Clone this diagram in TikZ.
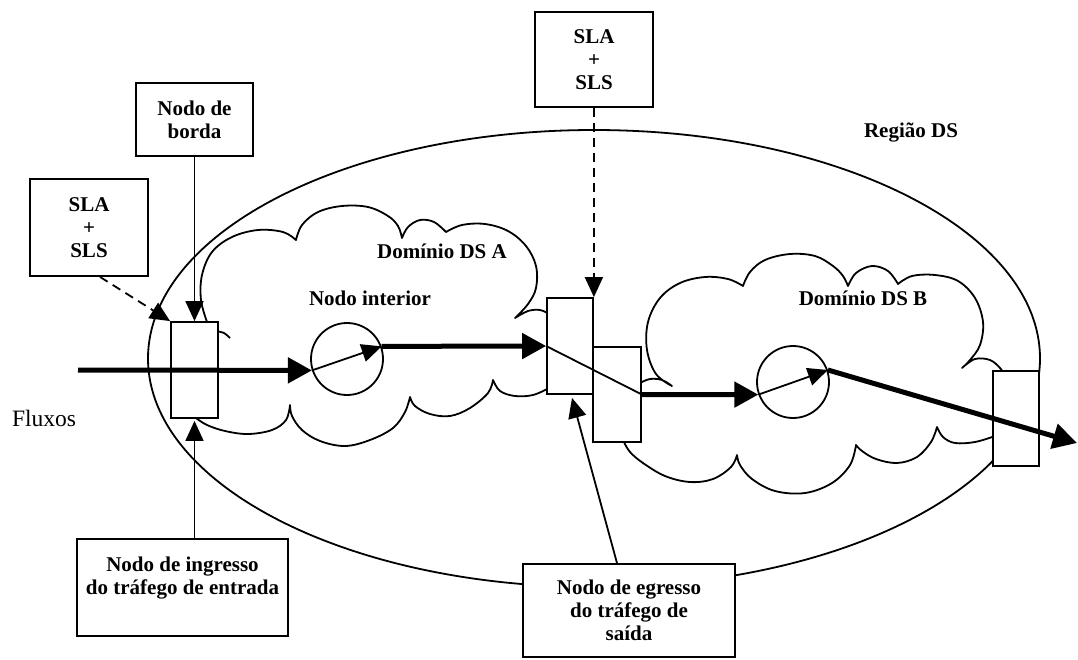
\documentclass[tikz,border=0pt]{standalone}
\usepackage{fontspec}
\setmainfont{Liberation Serif}
\usetikzlibrary{arrows.meta,calc}
\tikzset{
  flow/.style={-{Triangle[length=24pt,width=25pt]},line width=5pt},
  flowln/.style={line width=5pt},
  thn/.style={line width=1.8pt},
  tarr/.style={-{Triangle[length=20pt,width=18pt]},line width=1.8pt},
  dsh/.style={tarr,dash pattern=on 9pt off 6pt},
  cloudln/.style={line width=1.8pt,line join=round},
  rtr/.style={draw,fill=white,line width=1.8pt,inner sep=0pt},   % edge router box
  lbl/.style={draw,fill=white,line width=1.8pt,align=center,inner sep=0pt,
    font=\bfseries\fontsize{21}{23}\selectfont},
  intn/.style={circle,draw,line width=1.8pt,minimum size=72pt,inner sep=0pt},
  txt/.style={anchor=base,font=\bfseries\fontsize{21}{23}\selectfont},
}
\begin{document}
\begin{tikzpicture}[x=1pt,y=-1pt]
  \useasboundingbox (0,0) rectangle (1078,659);
  % Regiao DS
  \draw[thn] (594,358.5) ellipse [x radius=446pt,y radius=228.5pt];
  % ---- dominio A (cloud) ----
  \draw[cloudln] (207,322)
    --plot[smooth,tension=0.6] coordinates {(207,322) (201,300) (202,275) (212,252) (232,237) (258,230) (283,232) (296,240)}
    --plot[smooth,tension=0.6] coordinates {(296,240) (302,225) (318,212) (342,206) (368,207) (388,216) (398,226) (402,238)}
    --plot[smooth,tension=0.6] coordinates {(402,238) (408,227) (420,220) (434,222) (446,232)}
    --plot[smooth,tension=0.6] coordinates {(446,232) (462,225) (485,224) (508,231) (526,246) (536,266) (536,288) (528,304) (515,318)}
    --plot[smooth,tension=0.6] coordinates {(515,318) (528,311) (540,310) (549,314)};
  \draw[cloudln] (549,388)
    --plot[smooth,tension=0.6] coordinates {(549,388) (533,395) (515,396) (500,391) (493,380)}
    --plot[smooth,tension=0.6] coordinates {(493,380) (488,393) (470,408) (450,416) (430,414) (415,406) (410,397)}
    --plot[smooth,tension=0.6] coordinates {(410,397) (405,412) (393,428) (370,440) (345,446) (320,441) (302,430) (292,416) (290,405)}
    --plot[smooth,tension=0.6] coordinates {(290,405) (286,420) (272,430) (248,434) (225,431) (207,425) (196,418)};
  \draw[cloudln] plot[smooth] coordinates {(216,331) (224,333) (230,338)};
  % ---- dominio B (cloud) ----
  \draw[cloudln] (640,383)
    --plot[smooth,tension=0.6] coordinates {(640,383) (650,379) (662,380) (672,386)}
    --plot[smooth,tension=0.6] coordinates {(672,386) (656,374) (647,350) (648,322) (660,298) (680,283) (705,277) (728,279) (743,286)}
    --plot[smooth,tension=0.6] coordinates {(743,286) (750,272) (765,260) (790,254) (815,256) (833,266) (843,276) (848,286)}
    --plot[smooth,tension=0.6] coordinates {(848,286) (856,273) (872,266) (888,271) (898,284)}
    --plot[smooth,tension=0.6] coordinates {(898,284) (912,276) (935,275) (958,281) (975,298) (983,322) (980,345) (970,360) (962,368)}
    --plot[smooth,tension=0.6] coordinates {(962,368) (975,359) (990,360) (1000,368) (1004,374)};
  \draw[cloudln] (995,436)
    --plot[smooth,tension=0.6] coordinates {(995,436) (975,442) (955,443) (943,437) (937,427)}
    --plot[smooth,tension=0.6] coordinates {(937,427) (931,442) (917,457) (897,463) (876,459) (862,451) (856,445)}
    --plot[smooth,tension=0.6] coordinates {(856,445) (850,465) (832,483) (805,493) (775,491) (752,479) (740,465) (737,455)}
    --plot[smooth,tension=0.6] coordinates {(737,455) (731,467) (713,479) (690,482) (665,476) (643,463) (630,452) (624,442)};

  % boxes on the border and interior nodes
  \node[rtr,minimum width=47pt,minimum height=96pt] (ing) at (194.5,370) {};
  \node[rtr,minimum width=46pt,minimum height=96pt] (egr1) at (570,346) {};
  \node[rtr,minimum width=48pt,minimum height=95pt] (egr2) at (617,394.5) {};
  \node[rtr,minimum width=46pt,minimum height=95pt] (egrB) at (1016,418.5) {};
  \node[intn] (int1) at (347,359) {};
  \node[intn] (int2) at (793,382) {};

  % labels
  \node[lbl,minimum width=118pt,minimum height=97pt] (slaA) at (89,227.5) {SLA\\+\\SLS};
  \node[lbl,minimum width=117pt,minimum height=73pt] (borda) at (194.5,119.5) {Nodo de\\borda};
  \node[lbl,minimum width=118pt,minimum height=95pt] (slaB) at (594,59.5) {SLA\\+\\SLS};
  \node[lbl,minimum width=211pt,minimum height=97pt] (lblIn) at (182.5,587.5) {Nodo de ingresso\\do tráfego de entrada\\~};
  \node[lbl,minimum width=212pt,minimum height=93pt] (lblOut) at (629,610.5) {Nodo de egresso\\do tráfego de\\saída};
  \node[txt] (regiao) at (911,137) {Região DS};
  \node[txt] (domA) at (442,258) {Domínio DS A};
  \node[txt] (domB) at (863,305) {Domínio DS B};
  \node[txt] (nint) at (370,305) {Nodo interior};
  \node[anchor=base,font=\fontsize{23.5}{26}\selectfont] (fluxos) at (44,426) {Fluxos};

  \coordinate (fin) at (78,370);
  \coordinate (fout) at (1077,443);

  % pointers to the boxes
  \draw[dsh] ($(slaA.south)+(11,0)$) -- (ing.north west);
  \draw[tarr] (borda.south -| ing.north) -- (ing.north);
  \draw[tarr] (lblIn.north -| ing.south) -- ($(ing.south)+(0,2)$);
  \draw[dsh] (slaB.south -| egr1.north east) -- (egr1.north east);
  \draw[tarr] ($(lblOut.north)+(-12,0)$) -- ($(egr1.south)+(2,3)$);

  % traffic flow
  \draw[flow] (fin) -- (int1.198);
  \draw[tarr] (int1.198) -- (int1.20);
  \draw[flow] (int1.20) -- (egr1.west);
  \draw[thn] (egr1.west) -- (egr2.east);
  \draw[flow] (egr2.east) -- (int2.200);
  \draw[tarr] (int2.200) -- (int2.19);
  \draw[flow] (int2.19) -- (fout);
\end{tikzpicture}
\end{document}
